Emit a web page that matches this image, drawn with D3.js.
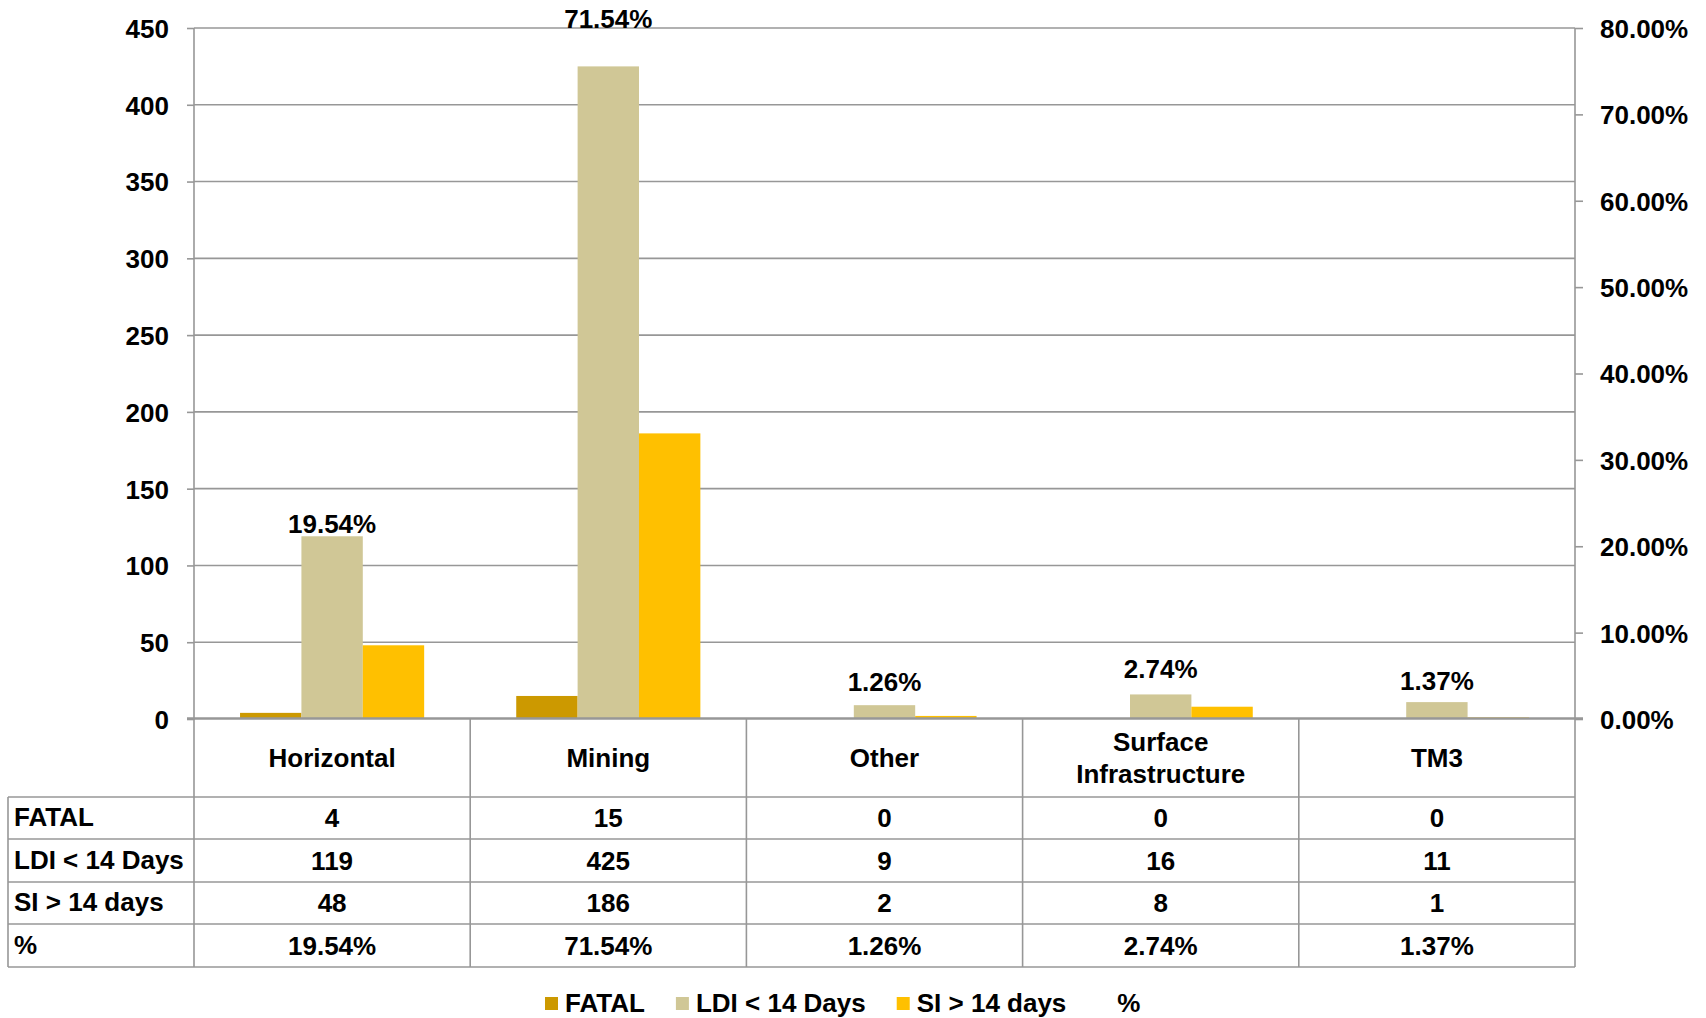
<!DOCTYPE html>
<html>
<head>
<meta charset="utf-8">
<script src="https://cdn.jsdelivr.net/npm/d3@7"></script>
<style>
  body { margin: 0; background: #fff; }
  text { font-family: "Liberation Sans", Arial, sans-serif; font-weight: bold; font-size: 26px; fill: #000; }
</style>
</head>
<body>
<div id="chart"></div>
<script>
// data
const categories = ["Horizontal", "Mining", "Other", "Surface Infrastructure", "TM3"];
const fatal = [4, 15, 0, 0, 0];
const ldi = [119, 425, 9, 16, 11];
const si = [48, 186, 2, 8, 1];
const pct = [19.54, 71.54, 1.26, 2.74, 1.37];
const seriesNames = ["FATAL", "LDI < 14 Days", "SI > 14 days", "%"];
const leftTicks = [0, 50, 100, 150, 200, 250, 300, 350, 400, 450];
const rightTicks = [0, 10, 20, 30, 40, 50, 60, 70, 80];

const colors = ["#CC9900", "#D0C796", "#FFC000"];
const gridColor = "#979797";

const W = 1706, H = 1018;
const x0 = 194, x1 = 1575, yTop = 28, yBot = 719;
const tableLeft = 8;
const rowLines = [797, 839, 882, 924, 967];

var svg = d3.select("#chart")
  .append("svg")
  .attr("width", W)
  .attr("height", H);

// scales
const xScale = d3.scaleBand()
  .domain(categories)
  .range([x0, x1]);

const bw = xScale.bandwidth();
// excel gap width 150% -> bars take 3/4.5 of the band
const xSeries = d3.scaleBand()
  .domain([0, 1, 2])
  .range([bw * 0.75 / 4.5, bw * 3.75 / 4.5]);

const yLeft = d3.scaleLinear().domain([0, 450]).range([yBot, yTop]);
const yRight = d3.scaleLinear().domain([0, 80]).range([yBot, yTop]);

// gridlines
svg.append("g")
  .selectAll("line")
  .data(leftTicks.filter(d => d > 0))
  .enter()
  .append("line")
  .attr("x1", x0)
  .attr("x2", x1)
  .attr("y1", d => yLeft(d))
  .attr("y2", d => yLeft(d))
  .attr("stroke", gridColor)
  .attr("stroke-width", 1.6);

// bars
const seriesVals = [fatal, ldi, si];
seriesVals.forEach((vals, s) => {
  svg.append("g")
    .selectAll("rect")
    .data(vals)
    .enter()
    .append("rect")
    .attr("x", (d, i) => xScale(categories[i]) + xSeries(s))
    .attr("y", d => yLeft(d))
    .attr("width", xSeries.bandwidth())
    .attr("height", d => yBot - yLeft(d))
    .attr("fill", colors[s]);
});

// left axis
const yAxisL = d3.axisLeft(yLeft)
  .tickValues(leftTicks)
  .tickSize(7)
  .tickPadding(18);

var gL = svg.append("g")
  .attr("transform", "translate(" + x0 + ",0)")
  .call(yAxisL);
gL.select(".domain").attr("stroke", gridColor).attr("stroke-width", 1.6).attr("d", "M0," + yTop + "V" + (yBot + 1));
gL.selectAll(".tick line").attr("stroke", gridColor).attr("stroke-width", 1.6);
gL.selectAll(".tick text").attr("dy", "0.36em").style("font-size", "26px").attr("font-family", null);

// right axis
const yAxisR = d3.axisRight(yRight)
  .tickValues(rightTicks)
  .tickSize(8)
  .tickPadding(17)
  .tickFormat(d => d.toFixed(2) + "%");

var gR = svg.append("g")
  .attr("transform", "translate(" + x1 + ",0)")
  .call(yAxisR);
gR.select(".domain").attr("stroke", gridColor).attr("stroke-width", 1.6).attr("d", "M0," + yTop + "V" + yBot);
gR.selectAll(".tick line").attr("stroke", gridColor).attr("stroke-width", 1.6);
gR.selectAll(".tick text").attr("dy", "0.36em").style("font-size", "26px").attr("font-family", null);

// x axis line (top of the data table)
svg.append("line")
  .attr("x1", x0 - 7).attr("x2", x1 + 8)
  .attr("y1", yBot - 0.5).attr("y2", yBot - 0.5)
  .attr("stroke", gridColor).attr("stroke-width", 2.4);

// percent labels (hidden % series on the secondary axis)
// the Mining label was dragged up to the top of the plot in the original
const labelLift = { "Mining": 56 };
svg.append("g")
  .selectAll("text")
  .data(pct)
  .enter()
  .append("text")
  .attr("x", (d, i) => xScale(categories[i]) + bw / 2)
  .attr("y", (d, i) => yRight(d) - 17 - (labelLift[categories[i]] || 0))
  .attr("text-anchor", "middle")
  .text(d => d.toFixed(2) + "%");

// data table
var table = svg.append("g");

// horizontal row lines
table.selectAll("line.row")
  .data(rowLines)
  .enter()
  .append("line")
  .attr("class", "row")
  .attr("x1", tableLeft).attr("x2", x1)
  .attr("y1", d => d).attr("y2", d => d)
  .attr("stroke", gridColor).attr("stroke-width", 1.6);

// vertical lines
const colEdges = categories.map(c => xScale(c)).concat([x1]);
table.selectAll("line.col")
  .data(colEdges)
  .enter()
  .append("line")
  .attr("class", "col")
  .attr("x1", d => d).attr("x2", d => d)
  .attr("y1", yBot).attr("y2", rowLines[rowLines.length - 1])
  .attr("stroke", gridColor).attr("stroke-width", 1.6);

table.append("line")
  .attr("x1", tableLeft).attr("x2", tableLeft)
  .attr("y1", rowLines[0]).attr("y2", rowLines[rowLines.length - 1])
  .attr("stroke", gridColor).attr("stroke-width", 1.6);

// category header
categories.forEach(c => {
  const lines = c.split(" ");
  const cy = (yBot + rowLines[0]) / 2;
  const lh = 32;
  lines.forEach((ln, k) => {
    table.append("text")
      .attr("x", xScale(c) + bw / 2)
      .attr("y", cy + (k - (lines.length - 1) / 2) * lh)
      .attr("dy", "0.36em")
      .attr("text-anchor", "middle")
      .text(ln);
  });
});

// rows
const rows = [fatal, ldi, si, pct.map(d => d.toFixed(2) + "%")];
rows.forEach((vals, r) => {
  const cy = (rowLines[r] + rowLines[r + 1]) / 2;
  table.append("text")
    .attr("x", tableLeft + 6)
    .attr("y", cy - 1)
    .attr("dy", "0.36em")
    .text(seriesNames[r]);
  table.selectAll(null)
    .data(vals)
    .enter()
    .append("text")
    .attr("x", (d, i) => xScale(categories[i]) + bw / 2)
    .attr("y", cy)
    .attr("dy", "0.36em")
    .attr("text-anchor", "middle")
    .text(d => d);
});

// legend
var lx = 545;
const ly = 1012;
seriesNames.forEach((name, s) => {
  if (s < 3) {
    svg.append("rect")
      .attr("x", lx)
      .attr("y", ly - 15)
      .attr("width", 13)
      .attr("height", 13)
      .attr("fill", colors[s]);
  }
  var t = svg.append("text")
    .attr("x", lx + 20)
    .attr("y", ly)
    .text(name);
  lx = lx + 20 + t.node().getComputedTextLength() + 31;
});
</script>
</body>
</html>
